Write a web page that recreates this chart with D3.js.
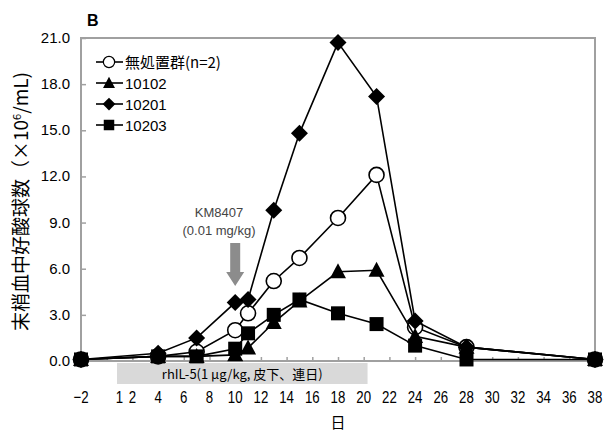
<!DOCTYPE html>
<html lang="ja">
<head>
  <meta charset="UTF-8">
  <title>B</title>
  <script src="https://d3js.org/d3.v7.min.js"></script>
  <style>
    body { margin: 0; background: #fff; }
    text { font-family: "Liberation Sans", Arial, sans-serif; }
    .jp { font-family: "Noto Sans CJK JP", sans-serif; }
  </style>
</head>
<body>
  <div id="chart"></div>
  <script>
    // data
    const days = [-2, 4, 7, 10, 11, 13, 15, 18, 21, 24, 28, 38];
    const control = [0.1, 0.3, 0.6, 2.0, 3.1, 5.2, 6.7, 9.3, 12.1, 2.2, 0.9, 0.1];
    const s10102 = [0.1, 0.3, 0.3, 0.4, 0.85, 2.5, 3.9, 5.8, 5.9, 1.6, 0.9, 0.1];
    const s10201 = [0.1, 0.5, 1.5, 3.8, 4.0, 9.8, 14.8, 20.7, 17.2, 2.6, 0.9, 0.1];
    const s10203 = [0.1, 0.3, 0.3, 0.8, 1.8, 3.0, 4.0, 3.1, 2.4, 1.0, 0.1, 0.1];
    const seriesNames = ["無処置群(n=2)", "10102", "10201", "10203"];
    const xTickLabels = [-2, 1, 2, 4, 6, 8, 10, 12, 14, 16, 18, 20, 22, 24, 26, 28, 30, 32, 34, 36, 38];
    const yTicks = [0, 3, 6, 9, 12, 15, 18, 21];
    const dosing = [0.8, 20.3]; // rhIL-5 period (days)

    const W = 607, H = 435;
    const margin = { top: 38, right: 12, bottom: 74, left: 81 };

    const svg = d3.select("#chart").append("svg")
      .attr("width", W).attr("height", H);

    const x = d3.scaleLinear().domain([-2, 38]).range([margin.left, W - margin.right]);
    const y = d3.scaleLinear().domain([0, 21]).range([H - margin.bottom, margin.top]);

    // dosing band under the axis
    svg.append("rect")
      .attr("x", x(dosing[0])).attr("y", y(0) + 2)
      .attr("width", x(dosing[1]) - x(dosing[0])).attr("height", 21)
      .attr("fill", "#d9d9d9");
    svg.append("text").attr("class", "jp")
      .attr("x", (x(dosing[0]) + x(dosing[1])) / 2).attr("y", y(0) + 18)
      .attr("text-anchor", "middle").attr("font-size", 13)
      .text("rhIL-5(1 μg/kg, 皮下、連日)");

    // frame
    svg.append("rect")
      .attr("x", x(-2)).attr("y", y(21))
      .attr("width", x(38) - x(-2)).attr("height", y(0) - y(21))
      .attr("fill", "none").attr("stroke", "#a0a0a0").attr("stroke-width", 2);

    // y axis
    const yAxis = svg.append("g")
      .attr("transform", `translate(${x(-2)},0)`)
      .call(d3.axisRight(y).tickValues(yTicks).tickSize(5).tickFormat(""));
    yAxis.select(".domain").remove();
    yAxis.selectAll("line").attr("stroke", "#a0a0a0").attr("stroke-width", 1.5);
    svg.selectAll(".ylab").data(yTicks).join("text")
      .attr("x", x(-2) - 11).attr("y", d => y(d) + 5)
      .attr("text-anchor", "end").attr("font-size", 15)
      .text(d => d.toFixed(1));

    // x axis ticks (every 2 days, inward)
    const xAxis = svg.append("g")
      .attr("transform", `translate(0,${y(0)})`)
      .call(d3.axisTop(x).tickValues(d3.range(-2, 39, 2)).tickSize(4).tickFormat(""));
    xAxis.select(".domain").remove();
    xAxis.selectAll("line").attr("stroke", "#a0a0a0").attr("stroke-width", 1.5);
    svg.selectAll(".xlab").data(xTickLabels).join("text")
      .attr("x", d => x(d)).attr("y", y(0) + 42)
      .attr("text-anchor", "middle").attr("font-size", 17)
      .attr("font-family", "'Liberation Sans Narrow', 'Liberation Sans', sans-serif")
      .attr("transform", d => `translate(${x(d)},0) scale(0.78,1) translate(${-x(d)},0)`)
      .text(d => d < 0 ? "\u2212" + Math.abs(d) : d);

    // axis titles
    svg.append("text").attr("class", "jp")
      .attr("x", (x(-2) + x(38)) / 2).attr("y", 428)
      .attr("text-anchor", "middle").attr("font-size", 15).text("日");
    const yt = svg.append("text").attr("class", "jp")
      .attr("transform", `translate(28,${(y(0) + y(21)) / 2 + 2}) rotate(-90)`)
      .attr("text-anchor", "middle").attr("font-size", 19);
    yt.append("tspan").text("末梢血中好酸球数（×10");
    yt.append("tspan").attr("dy", -7).attr("font-size", 11).text("6");
    yt.append("tspan").attr("dy", 7).text("/mL)");

    // panel letter
    svg.append("text").attr("x", 87).attr("y", 26)
      .attr("font-size", 16).attr("font-weight", "bold").text("B");

    // KM8407 annotation
    svg.append("text").attr("x", 219).attr("y", 217)
      .attr("text-anchor", "middle").attr("font-size", 13).attr("fill", "#444")
      .text("KM8407");
    svg.append("text").attr("x", 219).attr("y", 235)
      .attr("text-anchor", "middle").attr("font-size", 13).attr("fill", "#444")
      .text("(0.01 mg/kg)");
    const ax = x(10), ay0 = 243, ay1 = 286;
    svg.append("path")
      .attr("d", `M${ax - 5},${ay0} L${ax + 5},${ay0} L${ax + 5},${ay1 - 14} L${ax + 9},${ay1 - 14} L${ax},${ay1} L${ax - 9},${ay1 - 14} L${ax - 5},${ay1 - 14} Z`)
      .attr("fill", "#8c8c8c");

    // series
    const series = [
      { name: seriesNames[0], values: control, shape: "circle" },
      { name: seriesNames[1], values: s10102, shape: "triangle" },
      { name: seriesNames[2], values: s10201, shape: "diamond" },
      { name: seriesNames[3], values: s10203, shape: "square" }
    ];

    function marker(g, shape) {
      if (shape === "circle") {
        g.append("circle").attr("r", 7.5).attr("fill", "#fff").attr("stroke", "#000").attr("stroke-width", 1.6);
      } else if (shape === "triangle") {
        g.append("path").attr("d", "M0,-8.5 L8,6.5 L-8,6.5 Z").attr("fill", "#000");
      } else if (shape === "diamond") {
        g.append("path").attr("d", "M0,-8.5 L8.5,0 L0,8.5 L-8.5,0 Z").attr("fill", "#000");
      } else {
        g.append("rect").attr("x", -7).attr("y", -7).attr("width", 14).attr("height", 14).attr("fill", "#000");
      }
    }

    const line = d3.line().x((d, i) => x(days[i])).y(d => y(d));

    series.forEach(s => {
      svg.append("path").datum(s.values)
        .attr("fill", "none").attr("stroke", "#000").attr("stroke-width", 1.6)
        .attr("d", line);
      s.values.forEach((v, i) => {
        const g = svg.append("g").attr("transform", `translate(${x(days[i])},${y(v)})`);
        marker(g, s.shape);
      });
    });

    // legend
    const legend = svg.append("g");
    series.forEach((s, i) => {
      const ly = 62 + i * 21;
      const g = legend.append("g").attr("transform", `translate(96,${ly})`);
      g.append("line").attr("x1", 0).attr("x2", 27).attr("stroke", "#000").attr("stroke-width", 1.6);
      const m = g.append("g").attr("transform", "translate(13,0) scale(0.75)");
      marker(m, s.shape);
      g.append("text").attr("class", i === 0 ? "jp" : null)
        .attr("x", 29).attr("y", 5.5).attr("font-size", 15)
        .text(s.name);
    });
  </script>
</body>
</html>
